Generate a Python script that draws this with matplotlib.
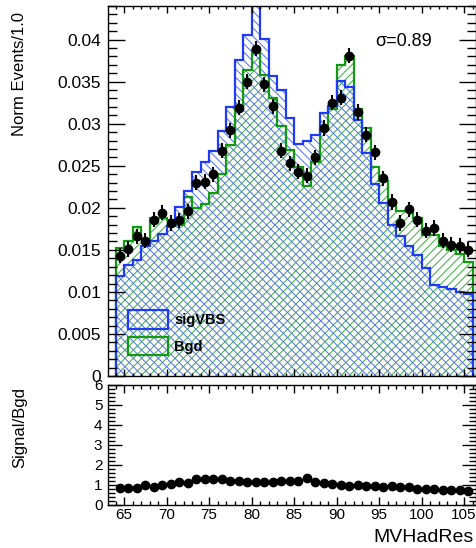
import numpy as np
import matplotlib
matplotlib.use("Agg")
import matplotlib.pyplot as plt
from matplotlib.patches import Patch
from matplotlib.ticker import MultipleLocator, FuncFormatter

plt.rcParams["font.family"] = ["Liberation Sans", "DejaVu Sans"]
plt.rcParams["hatch.linewidth"] = 0.7

# bin edges 64..106, width 1
edges = np.arange(64, 107, 1)
centers = edges[:-1] + 0.5

bgd = [0.0152, 0.0161, 0.0177, 0.0163, 0.0188, 0.0188, 0.0186, 0.0180, 0.0213, 0.0200,
       0.0205, 0.0218, 0.0240, 0.0275, 0.0321, 0.0364, 0.0388, 0.0358, 0.0330, 0.0297,
       0.0269, 0.0249, 0.0226, 0.0255, 0.0293, 0.0317, 0.0370, 0.0380, 0.0318, 0.0295,
       0.0249, 0.0232, 0.0208, 0.0196, 0.0196, 0.0188, 0.0168, 0.0168, 0.0154, 0.0150,
       0.0145, 0.0136]
sig = [0.0119, 0.0132, 0.0138, 0.0155, 0.0161, 0.0169, 0.0178, 0.0201, 0.0220, 0.0243,
       0.0255, 0.0267, 0.0291, 0.0320, 0.0376, 0.0406, 0.0450, 0.0401, 0.0357, 0.0340,
       0.0307, 0.0276, 0.0279, 0.0286, 0.0313, 0.0321, 0.0351, 0.0344, 0.0304, 0.0265,
       0.0228, 0.0206, 0.0180, 0.0166, 0.0154, 0.0144, 0.0128, 0.0108, 0.0106, 0.0103,
       0.0100, 0.0098]
points = [0.0143, 0.0151, 0.0166, 0.0161, 0.0186, 0.0194, 0.0182, 0.0185, 0.0196, 0.0230,
          0.0231, 0.0240, 0.0268, 0.0292, 0.0319, 0.0350, 0.0389, 0.0347, 0.0321, 0.0268,
          0.0253, 0.0243, 0.0238, 0.0260, 0.0295, 0.0325, 0.0331, 0.0381, 0.0314, 0.0287,
          0.0266, 0.0235, 0.0207, 0.0182, 0.0198, 0.0186, 0.0173, 0.0176, 0.0161, 0.0156,
          0.0155, 0.0150]
points_err = 0.0009
ratio = [0.83, 0.83, 0.83, 1.00, 0.88, 1.00, 1.05, 1.17, 1.08, 1.28,
         1.28, 1.28, 1.28, 1.20, 1.20, 1.13, 1.13, 1.13, 1.13, 1.20,
         1.20, 1.20, 1.33, 1.13, 1.08, 1.05, 0.98, 0.95, 1.00, 0.95,
         0.95, 0.88, 0.95, 0.88, 0.88, 0.78, 0.78, 0.82, 0.75, 0.75,
         0.75, 0.72]

blue = "#1f3cf2"
green = "#139a13"
blue_hatch = "#4f6ef6"
green_hatch = "#3aab3a"

W, H = 477, 548
fig = plt.figure(figsize=(W / 100, H / 100), dpi=100)
ax1 = fig.add_axes([108 / W, 1 - 376 / H, 368 / W, 370 / H])
ax2 = fig.add_axes([108 / W, 1 - 505 / H, 368 / W, 120 / H])

# hatched histograms
ax1.stairs(bgd, edges, fill=True, facecolor="none", edgecolor=green_hatch, hatch="////", linewidth=0)
ax1.stairs(sig, edges, fill=True, facecolor="none", edgecolor=blue_hatch, hatch="\\\\\\\\", linewidth=0)
ax1.stairs(bgd, edges, color=green, linewidth=1.6)
ax1.stairs(sig, edges, color=blue, linewidth=1.6)
ax1.errorbar(centers, points, yerr=points_err, fmt="o", color="black", ms=6, elinewidth=1.5, capsize=0)

ax1.set_xlim(63.1, 106.4)
ax1.set_ylim(0, 0.044)
ax1.text(0.725, 0.905, "\u03c3=0.89", transform=ax1.transAxes, fontsize=13, va="center")

handles = [Patch(facecolor="none", edgecolor=blue, linewidth=1.6),
           Patch(facecolor="none", edgecolor=green, linewidth=1.6)]
leg = ax1.legend(handles, ["sigVBS", "Bgd"], loc="lower left", bbox_to_anchor=(0.02, 0.02),
                 frameon=False, handlelength=2.7, handleheight=1.6, handletextpad=0.45,
                 labelspacing=0.55, prop={"size": 10.5, "weight": "bold"})

fmt = FuncFormatter(lambda v, p: "%g" % round(v, 4))
ax1.yaxis.set_major_locator(MultipleLocator(0.005))
ax1.yaxis.set_minor_locator(MultipleLocator(0.001))
ax1.yaxis.set_major_formatter(fmt)
for ax in (ax1, ax2):
    ax.xaxis.set_major_locator(MultipleLocator(5))
    ax.xaxis.set_minor_locator(MultipleLocator(1))
    ax.tick_params(which="both", direction="in", top=True, right=True, width=1)
    for s in ax.spines.values():
        s.set_linewidth(1)
ax1.tick_params(axis="y", which="major", length=12, labelsize=12.5, pad=5)
ax1.tick_params(axis="y", which="minor", length=6.5)
ax1.tick_params(axis="x", which="major", length=5, labelbottom=False)
ax1.tick_params(axis="x", which="minor", length=2.5)

# ratio panel
ax2.plot(centers, ratio, "o", color="black", ms=6)
ax2.set_xlim(63.1, 106.4)
ax2.set_ylim(0, 6)
ax2.yaxis.set_major_locator(MultipleLocator(1))
ax2.yaxis.set_minor_locator(MultipleLocator(0.2))
ax2.yaxis.set_major_formatter(fmt)
ax2.tick_params(axis="y", which="major", length=10, labelsize=11, pad=4)
ax2.tick_params(axis="y", which="minor", length=5)
ax2.tick_params(axis="x", which="major", length=6, labelsize=11, pad=2)
ax2.tick_params(axis="x", which="minor", length=3)

fig.text(20 / W, 1 - 12 / H, "Norm Events/1.0", rotation=90, ha="center", va="top", fontsize=12)
fig.text(20 / W, 1 - 387 / H, "Signal/Bgd", rotation=90, ha="center", va="top", fontsize=12)
fig.text(474 / W, 1 - 537 / H, "MVHadRes", ha="right", va="center", fontsize=14)

fig.savefig("out.png", dpi=100)
